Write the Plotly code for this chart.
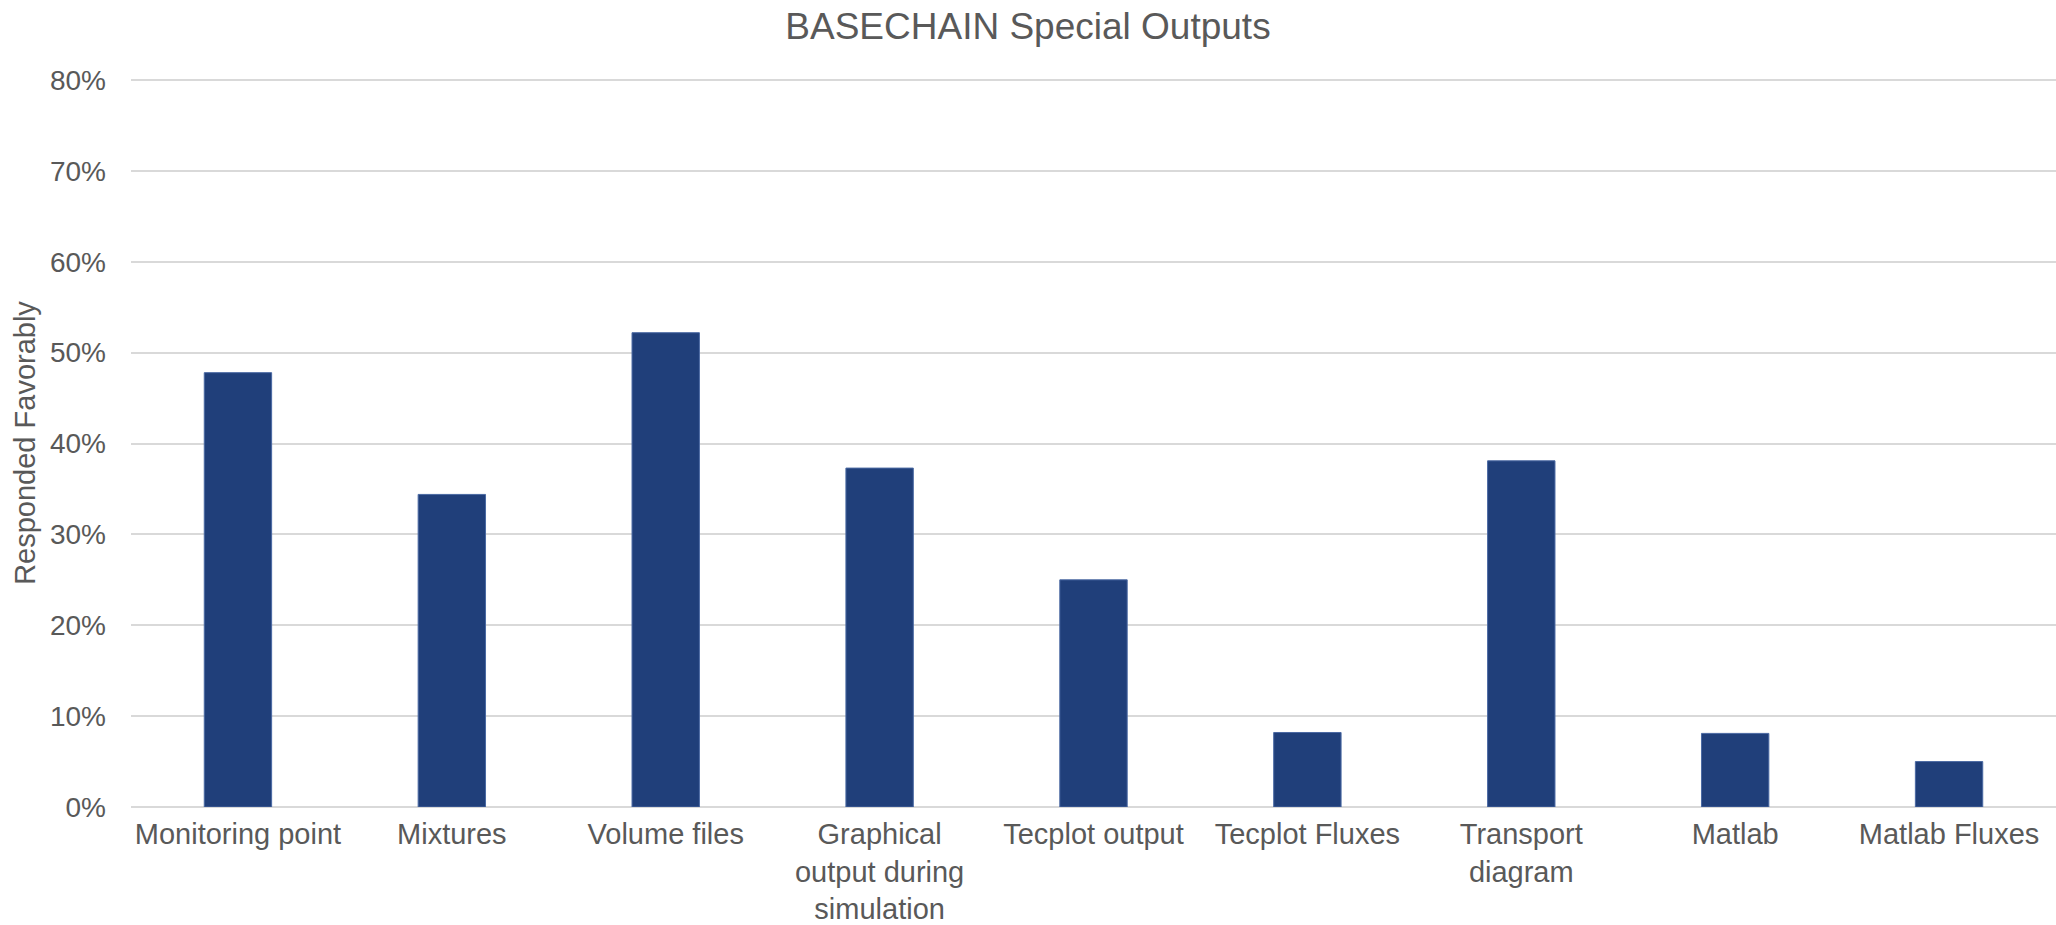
import plotly.graph_objects as go

categories = [
    "Monitoring point",
    "Mixtures",
    "Volume files",
    "Graphical<br>output during<br>simulation",
    "Tecplot output",
    "Tecplot Fluxes",
    "Transport<br>diagram",
    "Matlab",
    "Matlab Fluxes",
]
values = [0.478, 0.344, 0.522, 0.373, 0.250, 0.082, 0.381, 0.081, 0.050]
y_ticks = [0, 0.1, 0.2, 0.3, 0.4, 0.5, 0.6, 0.7, 0.8]

FONT = "Liberation Sans, Arial, sans-serif"
TXT = "#595959"

fig = go.Figure(
    go.Bar(
        x=categories,
        y=values,
        marker=dict(color="#203F7A", line=dict(color="#4A69A3", width=1)),
        hoverinfo="x+y",
    )
)

fig.update_layout(
    width=2056,
    height=925,
    margin=dict(l=131, r=0, t=79, b=118),
    paper_bgcolor="white",
    plot_bgcolor="white",
    bargap=0.685,
    showlegend=False,
    font=dict(family=FONT, color=TXT, size=28),
    title=dict(
        text="BASECHAIN Special Outputs",
        font=dict(family=FONT, color=TXT, size=37),
        x=0.5,
        xref="container",
        xanchor="center",
        y=0.972,
        yref="container",
        yanchor="middle",
    ),
    xaxis=dict(
        showgrid=False,
        showline=False,
        ticks="",
        tickfont=dict(size=29, color=TXT),
        ticklabelstandoff=7,
        automargin=False,
    ),
    yaxis=dict(
        range=[0, 0.8012],
        tickvals=y_ticks,
        tickformat=".0%",
        showgrid=True,
        gridcolor="#D9D9D9",
        gridwidth=2,
        zeroline=True,
        zerolinecolor="#D9D9D9",
        zerolinewidth=2,
        showline=False,
        ticks="",
        tickfont=dict(size=28, color=TXT),
        ticklabelstandoff=24,
        automargin=False,
        title=dict(text="Responded Favorably", font=dict(size=29, color=TXT), standoff=5),
    ),
)

fig.write_html(
    "out.html",
    config={"displayModeBar": False},
    post_script="document.body.style.margin='0';",
)
